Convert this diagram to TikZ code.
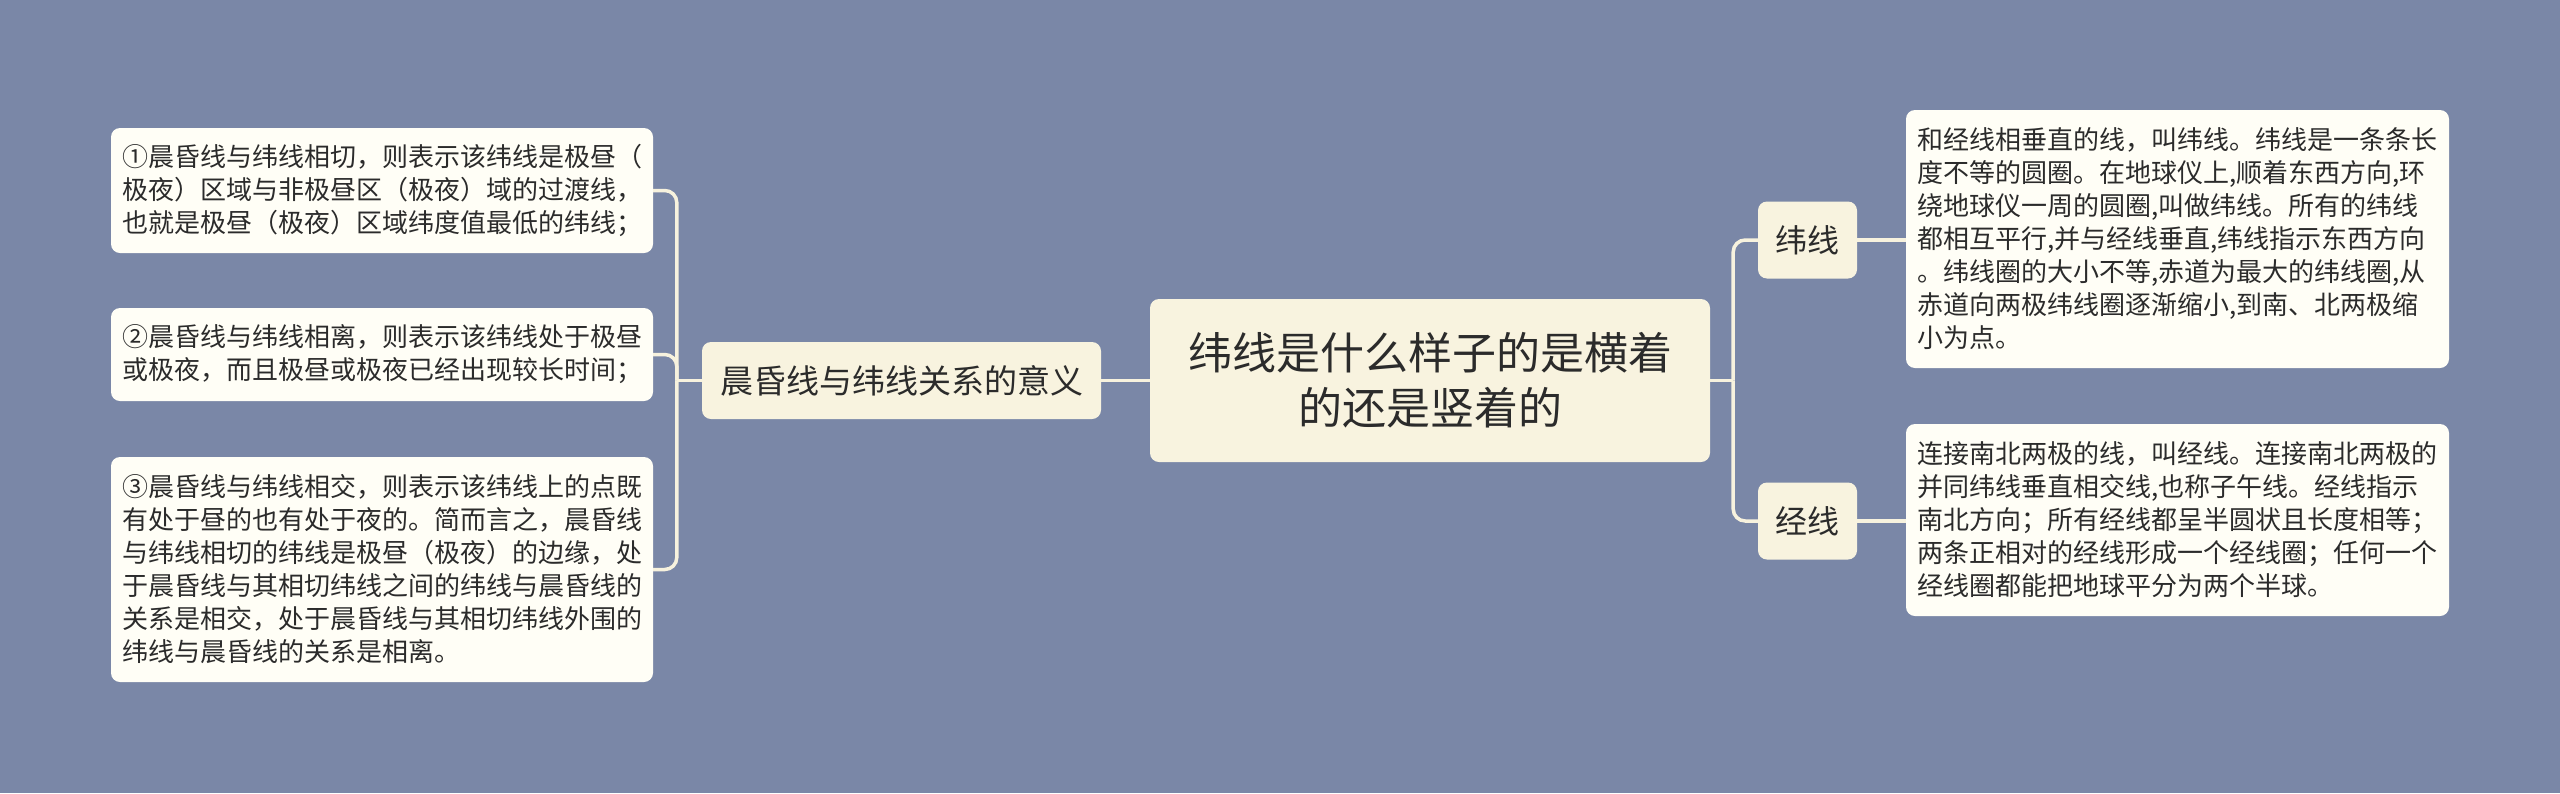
\documentclass[tikz,border=0pt]{standalone}
\usepackage{fontspec}
\setmainfont{Noto Sans CJK SC}
\definecolor{bgblue}{HTML}{7A87A7}
\definecolor{rootfill}{HTML}{F8F3DF}
\definecolor{leaffill}{HTML}{FFFEF6}
\definecolor{linkcol}{HTML}{F7F2DE}
\definecolor{txt}{HTML}{2B2B2B}

\begin{document}
\begin{tikzpicture}[x=1pt, y=-1pt,
    box/.style={rounded corners=9pt, inner sep=0pt, text=txt},
    rootbox/.style={box, fill=rootfill, align=center, font=\fontsize{44}{55}\selectfont},
    subbox/.style={box, fill=rootfill, font=\fontsize{32}{40}\selectfont},
    leafbox/.style={box, fill=leaffill, align=left, font=\fontsize{26}{33}\selectfont},
    link/.style={linkcol, line width=3.5pt}]
    \fill[bgblue] (0,0) rectangle (2560,793);
    \useasboundingbox (0,0) rectangle (2560,793);

    \node[rootbox, minimum width=560, minimum height=163] (root) at (1430,380.5) {纬线是什么样子的是横着\\的还是竖着的};
    \node[subbox, minimum width=399, minimum height=77, font=\fontsize{33}{40}\selectfont] (mid) at (901.5,380.5) {晨昏线与纬线关系的意义};
    \node[subbox, minimum width=99, minimum height=77] (wei) at (1807.5,240) {纬线};
    \node[subbox, minimum width=99, minimum height=77] (jing) at (1807.5,521) {经线};

    \node[leafbox, minimum width=542, minimum height=125] (l1) at (382,190.5) {①晨昏线与纬线相切，则表示该纬线是极昼（\\极夜）区域与非极昼区（极夜）域的过渡线，\\也就是极昼（极夜）区域纬度值最低的纬线；};
    \node[leafbox, minimum width=542, minimum height=93] (l2) at (382,354.5) {②晨昏线与纬线相离，则表示该纬线处于极昼\\或极夜，而且极昼或极夜已经出现较长时间；};
    \node[leafbox, minimum width=542, minimum height=225] (l3) at (382,569.5) {③晨昏线与纬线相交，则表示该纬线上的点既\\有处于昼的也有处于夜的。简而言之，晨昏线\\与纬线相切的纬线是极昼（极夜）的边缘，处\\于晨昏线与其相切纬线之间的纬线与晨昏线的\\关系是相交，处于晨昏线与其相切纬线外围的\\纬线与晨昏线的关系是相离。};
    \node[leafbox, minimum width=543, minimum height=258] (r1) at (2177.5,239) {和经线相垂直的线，叫纬线。纬线是一条条长\\度不等的圆圈。在地球仪上,顺着东西方向,环\\绕地球仪一周的圆圈,叫做纬线。所有的纬线\\都相互平行,并与经线垂直,纬线指示东西方向\\。纬线圈的大小不等,赤道为最大的纬线圈,从\\赤道向两极纬线圈逐渐缩小,到南、北两极缩\\小为点。};
    \node[leafbox, minimum width=543, minimum height=192] (r2) at (2177.5,520) {连接南北两极的线，叫经线。连接南北两极的\\并同纬线垂直相交线,也称子午线。经线指示\\南北方向；所有经线都呈半圆状且长度相等；\\两条正相对的经线形成一个经线圈；任何一个\\经线圈都能把地球平分为两个半球。};

    \draw[link] (root.west) -- (mid.east);
    \draw[link] (mid.west) -- ++(-25,0) coordinate (lj);
    \foreach \n in {l1, l2, l3} {
        \draw[link, rounded corners=12pt] (lj) |- (\n.east);
    }
    \draw[link] (root.east) -- ++(23,0) coordinate (rj);
    \foreach \n in {wei, jing} {
        \draw[link, rounded corners=12pt] (rj) |- (\n.west);
    }
    \draw[link] (wei.east) -- (wei.east -| r1.west);
    \draw[link] (jing.east) -- (jing.east -| r2.west);
\end{tikzpicture}
\end{document}
